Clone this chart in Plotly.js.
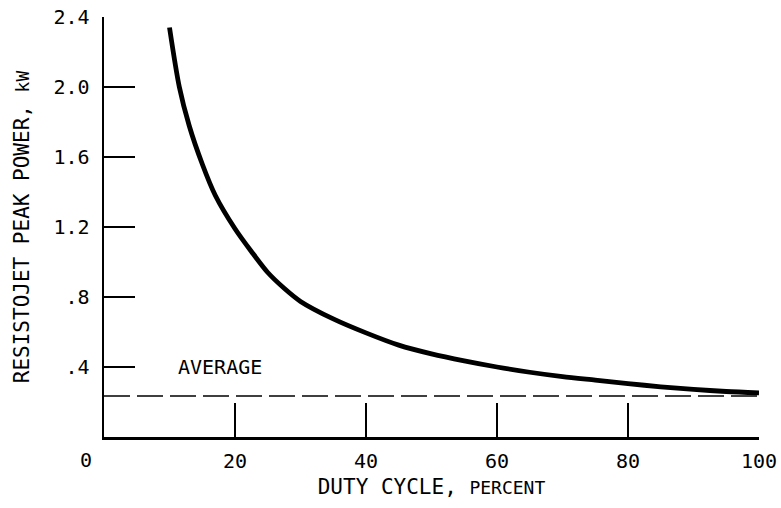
<!DOCTYPE html>
<html>
<head>
<meta charset="utf-8">
<script src="https://cdn.plot.ly/plotly-3.0.1.min.js"></script>
<style>html,body{margin:0;padding:0;background:#fff;}#chart{width:781px;height:508px;}</style>
</head>
<body>
<div id="chart"></div>
<script>
// Peak power curve
const dutyCycle = [10, 11.5, 13, 15, 17, 20, 22.5, 25, 27.5, 30, 35, 40, 45, 50, 55, 60, 65, 70, 75, 80, 85, 90, 95, 100];
const peakPower = [2.34, 2.0, 1.78, 1.56, 1.38, 1.19, 1.06, 0.94, 0.85, 0.775, 0.675, 0.595, 0.525, 0.475, 0.435, 0.40, 0.37, 0.345, 0.325, 0.305, 0.287, 0.272, 0.26, 0.252];
// Average power line
const avgX = [0, 100];
const avgY = [0.234, 0.234];
const avgLabel = "AVERAGE";
const avgLabelPos = [17.7, 0.40];
// Ticks
const xTickVals = [20, 40, 60, 80, 100];
const xTickText = ["20", "40", "60", "80", "100"];
const yTickVals = [0.4, 0.8, 1.2, 1.6, 2.0, 2.4];
const yTickText = [".4", ".8", "1.2", "1.6", "2.0", "2.4"];

const FONT = "DejaVu Sans Mono, monospace";

const traces = [
  {x: avgX, y: avgY, mode: "lines", line: {color: "#000", width: 1.5, dash: "26px,7px"}, hoverinfo: "skip"},
  {x: dutyCycle, y: peakPower, mode: "lines", line: {color: "#000", width: 4.8, shape: "spline", smoothing: 0.8}, hoverinfo: "skip"}
];

const layout = {
  width: 781, height: 508,
  margin: {l: 104, r: 22, t: 17, b: 71},
  paper_bgcolor: "#fff", plot_bgcolor: "#fff",
  showlegend: false,
  font: {family: FONT, size: 20, color: "#000"},
  xaxis: {
    range: [0, 100], showgrid: false, zeroline: false,
    showline: true, linecolor: "#000", linewidth: 2.5,
    ticks: "inside", ticklen: 34, tickwidth: 2, tickcolor: "#000",
    tickvals: xTickVals, ticktext: xTickText,
    tickfont: {family: FONT, size: 20, color: "#000"},
    ticklabelstandoff: 4,
    title: {text: "DUTY CYCLE, <span style='font-size:18px'>PERCENT</span>", font: {family: FONT, size: 21, color: "#000"}, standoff: 8}
  },
  yaxis: {
    range: [0, 2.4], showgrid: false, zeroline: false,
    showline: true, linecolor: "#000", linewidth: 2.5,
    ticks: "inside", ticklen: 31, tickwidth: 2, tickcolor: "#000",
    tickvals: yTickVals, ticktext: yTickText,
    tickfont: {family: FONT, size: 20, color: "#000"},
    ticklabelstandoff: 8,
    title: {text: "RESISTOJET PEAK POWER, <span style='font-size:18px'>kW</span>", font: {family: FONT, size: 21, color: "#000"}, standoff: 18}
  },
  annotations: [
    {x: avgLabelPos[0], y: avgLabelPos[1], xref: "x", yref: "y", text: avgLabel, showarrow: false,
     font: {family: FONT, size: 20, color: "#000"}, xanchor: "center", yanchor: "middle"},
    {x: 0, y: 0, xref: "x", yref: "y", text: "0", showarrow: false, xshift: -18, yshift: -23,
     font: {family: FONT, size: 20, color: "#000"}, xanchor: "center", yanchor: "middle"}
  ]
};

Plotly.newPlot("chart", traces, layout, {displayModeBar: false, staticPlot: true});
</script>
</body>
</html>
